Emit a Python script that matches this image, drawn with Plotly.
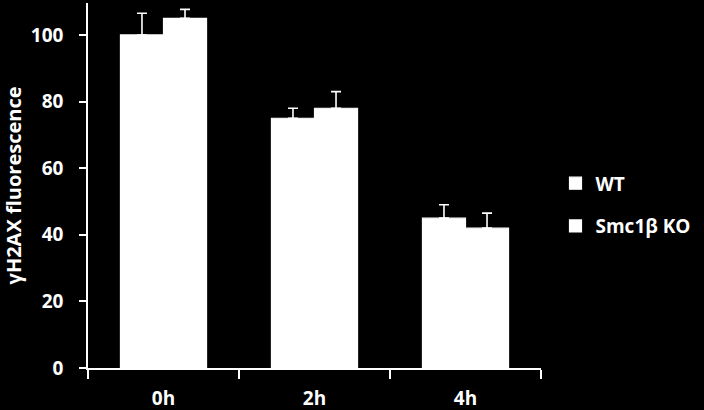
import plotly.graph_objects as go

categories = ["0h", "2h", "4h"]
wt_values = [100, 75, 45]
ko_values = [105, 78, 42]
wt_err = [6.5, 3, 4]
ko_err = [2.7, 5, 4.5]
y_ticks = [0, 20, 40, 60, 80, 100]

FONT = "Open Sans"
fig = go.Figure()
for name, vals, errs, grp in [("WT", wt_values, wt_err, "a"), ("Smc1β KO", ko_values, ko_err, "b")]:
    fig.add_trace(go.Bar(
        x=categories, y=vals, name=name, legendgroup=grp,
        marker=dict(color="white", line=dict(width=1.2, color="white")),
        error_y=dict(type="data", array=errs, arrayminus=[0]*len(errs), symmetric=False,
                     color="white", thickness=1.6, width=5),
    ))

fig.update_layout(
    width=704, height=410,
    paper_bgcolor="black", plot_bgcolor="black",
    margin=dict(l=88, r=163, t=3, b=42),
    barmode="group", bargap=0.43, bargroupgap=0,
    font=dict(family=FONT, color="white"),
    showlegend=True,
    legend=dict(x=1.032, xanchor="left", y=0.447, yanchor="middle",
                font=dict(family=FONT, size=19, color="white", weight="bold"),
                tracegroupgap=15, bgcolor="rgba(0,0,0,0)"),
    xaxis=dict(type="category", showline=True, linecolor="white", linewidth=1.5,
               ticks="outside", tickson="boundaries", ticklen=9, tickcolor="white", tickwidth=1.5,
               tickfont=dict(family=FONT, size=19, color="white", weight="bold"),
               showgrid=False, zeroline=False, ticklabelstandoff=12, automargin=False),
    yaxis=dict(range=[0, 109.6], tickvals=y_ticks, showline=True, linecolor="white", linewidth=1.5,
               ticks="outside", ticklen=7, tickcolor="white", tickwidth=1.5,
               tickfont=dict(family=FONT, size=19, color="white", weight="bold"),
               showgrid=False, zeroline=False, ticklabelstandoff=12, automargin=False,
               title=dict(text="γH2AX fluorescence", font=dict(family=FONT, size=20, color="white", weight="bold"),
                          standoff=10)),
)
fig.write_html("out.html", config={"displayModeBar": False},
               post_script="document.body.style.margin='0px';document.body.style.background='black';")
